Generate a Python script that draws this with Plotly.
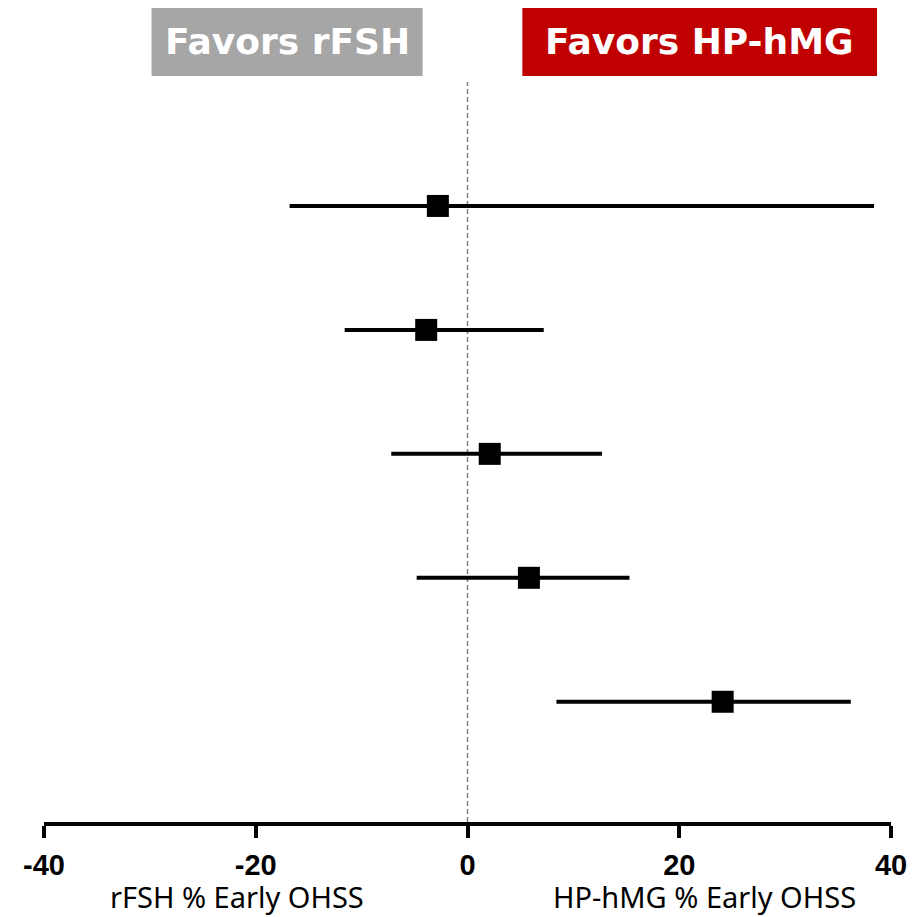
import plotly.graph_objects as go

rows = [1, 2, 3, 4, 5]
estimate = [-2.8, -3.9, 2.1, 5.8, 24.1]
lower = [-16.8, -11.6, -7.2, -4.8, 8.4]
upper = [38.4, 7.2, 12.7, 15.3, 36.2]
tick_vals = [-40, -20, 0, 20, 40]
tick_text = ["-40", "-20", "0", "20", "40"]
left_label = "Favors rFSH"
right_label = "Favors HP-hMG"
left_title = "rFSH % Early OHSS"
right_title = "HP-hMG % Early OHSS"

err_plus = [u - e for u, e in zip(upper, estimate)]
err_minus = [e - l for e, l in zip(estimate, lower)]

fig = go.Figure()
fig.add_trace(go.Scatter(
    x=estimate, y=rows, mode="markers",
    marker=dict(symbol="square", size=22, color="black"),
    error_x=dict(type="data", symmetric=False, array=err_plus, arrayminus=err_minus,
                 thickness=4, width=0, color="black"),
    showlegend=False, hoverinfo="skip",
))

# reference dashed line at zero
fig.add_shape(type="line", xref="x", yref="paper", x0=0, x1=0, y0=0, y1=1,
              line=dict(color="#7F7F7F", width=1.5, dash="5px,3px"), layer="below")

# header boxes
fig.add_shape(type="rect", xref="x", yref="paper", x0=-29.84, x1=-4.24, y0=1.0081, y1=1.1027,
              fillcolor="#A6A6A6", line=dict(width=0))
fig.add_shape(type="rect", xref="x", yref="paper", x0=5.18, x1=38.68, y0=1.0081, y1=1.1027,
              fillcolor="#C00000", line=dict(width=0))
fig.add_annotation(x=(-29.84 - 4.24) / 2, y=1.0554, xref="x", yref="paper", text=left_label,
                   showarrow=False, font=dict(family="DejaVu Sans", size=36, color="white", weight="bold"),
                   xanchor="center", yanchor="middle")
fig.add_annotation(x=(5.18 + 38.68) / 2, y=1.0554, xref="x", yref="paper", text=right_label,
                   showarrow=False, font=dict(family="DejaVu Sans", size=36, color="white", weight="bold"),
                   xanchor="center", yanchor="middle")

# axis titles
fig.add_annotation(x=-21.8, y=-0.128, xref="x", yref="paper", text=left_title, showarrow=False,
                   font=dict(family="Noto Sans", size=29, color="black"), xanchor="center", yanchor="bottom",
                   borderpad=0)
fig.add_annotation(x=22.4, y=-0.128, xref="x", yref="paper", text=right_title, showarrow=False,
                   font=dict(family="Noto Sans", size=29, color="black"), xanchor="center", yanchor="bottom",
                   borderpad=0)

fig.update_layout(
    width=911, height=909,
    margin=dict(l=36, r=25, t=74, b=95, pad=0),
    plot_bgcolor="white", paper_bgcolor="white",
    xaxis=dict(range=[-40, 40], tickvals=tick_vals, ticktext=tick_text,
               showgrid=False, zeroline=False, showline=True, linecolor="black", linewidth=4,
               ticks="outside", ticklen=12, tickwidth=4, tickcolor="black",
               tickfont=dict(family="Liberation Sans", size=29, color="black", weight="bold"),
               ticklabelstandoff=2, fixedrange=True),
    yaxis=dict(range=[5.97, 0.0], visible=False, showgrid=False, zeroline=False, fixedrange=True),
)

fig.write_html("out.html")
